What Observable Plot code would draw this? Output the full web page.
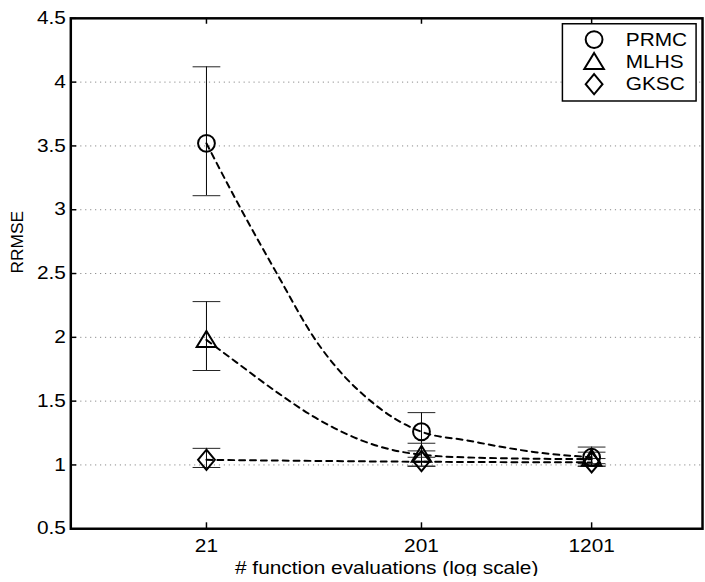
<!DOCTYPE html>
<html>
<head>
<meta charset="utf-8">
<script src="https://cdn.jsdelivr.net/npm/d3@7"></script>
<script src="https://cdn.jsdelivr.net/npm/@observablehq/plot@0.6"></script>
<style>
  html, body { margin: 0; padding: 0; background: #fff; }
  #chart { position: relative; width: 705px; height: 582px; overflow: hidden; }
</style>
</head>
<body>
<div id="chart"></div>
<script>
// Evaluation budgets (x, log scale) and y tick values
const evaluations = [21, 201, 1201];
const yTicks = [0.5, 1, 1.5, 2, 2.5, 3, 3.5, 4, 4.5];
const methods = ["PRMC", "MLHS", "GKSC"];

// Mean RRMSE and error-bar ends, one value per evaluation budget
const prmcMean = [3.52, 1.26, 1.06];
const prmcLow  = [3.11, 1.11, 0.99];
const prmcHigh = [4.12, 1.41, 1.14];
const mlhsMean = [1.98, 1.08, 1.05];
const mlhsLow  = [1.74, 0.99, 1.01];
const mlhsHigh = [2.28, 1.17, 1.10];
const gkscMean = [1.04, 1.03, 1.02];
const gkscLow  = [0.98, 0.99, 0.99];
const gkscHigh = [1.13, 1.06, 1.05];

// Dashed trend curves
const prmcTrendN = [21, 29, 44, 66, 126, 201, 330, 471, 664, 1201];
const prmcTrendV = [3.52, 3.06, 2.50, 1.98, 1.46, 1.26, 1.19, 1.14, 1.10, 1.06];
const mlhsTrendN = [21, 29, 44, 66, 126, 201, 356, 1201];
const mlhsTrendV = [1.98, 1.80, 1.57, 1.37, 1.15, 1.08, 1.057, 1.045];
const gkscTrendN = [21, 201, 1201];
const gkscTrendV = [1.04, 1.025, 1.02];

// Marker shapes
const triangleMarker = {
  draw(ctx, size) {
    const r = Math.sqrt(size / Math.PI);
    ctx.moveTo(0, -r);
    ctx.lineTo(r * 1.1, r * 0.8);
    ctx.lineTo(-r * 1.1, r * 0.8);
    ctx.closePath();
  }
};
const diamondMarker = {
  draw(ctx, size) {
    const r = Math.sqrt(size / Math.PI);
    ctx.moveTo(0, -r * 1.2);
    ctx.lineTo(r, 0);
    ctx.lineTo(0, r * 1.2);
    ctx.lineTo(-r, 0);
    ctx.closePath();
  }
};
const capMarker = {
  draw(ctx, size) {
    const r = Math.sqrt(size / Math.PI);
    ctx.moveTo(-r, 0);
    ctx.lineTo(r, 0);
  }
};
const markerOf = {PRMC: "circle", MLHS: triangleMarker, GKSC: diamondMarker};

const rows = [];
const series = {
  PRMC: [prmcMean, prmcLow, prmcHigh],
  MLHS: [mlhsMean, mlhsLow, mlhsHigh],
  GKSC: [gkscMean, gkscLow, gkscHigh]
};
for (const m of methods) {
  const [mean, low, high] = series[m];
  evaluations.forEach((n, i) => rows.push({method: m, n, mean: mean[i], low: low[i], high: high[i]}));
}
const trends = [
  ...prmcTrendN.map((n, i) => ({method: "PRMC", n, v: prmcTrendV[i]})),
  ...mlhsTrendN.map((n, i) => ({method: "MLHS", n, v: mlhsTrendV[i]})),
  ...gkscTrendN.map((n, i) => ({method: "GKSC", n, v: gkscTrendV[i]}))
];

const W = 712, H = 582;
const mL = 71, mR = 3, mT = 18, mB = 48.5;
const plotW = W - mL - mR, plotH = H - mT - mB;
const font = "'Liberation Sans', Arial, Helvetica, sans-serif";

const chart = Plot.plot({
  width: W,
  height: H,
  marginLeft: mL,
  marginRight: mR,
  marginTop: mT,
  marginBottom: mB,
  style: {fontFamily: font, fontSize: "18px", color: "black", background: "white"},
  x: {type: "log", domain: [5.05, 3850]},
  y: {domain: [0.5, 4.5]},
  marks: [
    // dotted horizontal grid
    Plot.ruleY(yTicks.slice(1, -1), {stroke: "#8a8a8a", strokeWidth: 1, strokeDasharray: "1.2,3.8"}),
    // error bars
    Plot.ruleX(rows, {x: "n", y1: "low", y2: "high", stroke: "black", strokeWidth: 1}),
    Plot.dot(rows, {x: "n", y: "low", symbol: capMarker, r: 14, stroke: "#222", strokeWidth: 1}),
    Plot.dot(rows, {x: "n", y: "high", symbol: capMarker, r: 14, stroke: "#222", strokeWidth: 1}),
    // trend curves
    Plot.line(trends, {x: "n", y: "v", z: "method", curve: "monotone-x", stroke: "black", strokeWidth: 2, strokeDasharray: "6,5"}),
    // markers
    ...methods.map(m => Plot.dot(rows.filter(d => d.method === m), {
      x: "n", y: "mean", symbol: markerOf[m], r: m === "MLHS" ? 9 : 8.5,
      stroke: "black", strokeWidth: 2, fill: "none"
    })),
    // axes frame and inward ticks
    Plot.frame({stroke: "black", strokeWidth: 2.5}),
    Plot.tickX(evaluations, {x: d => d, insetTop: plotH - 6, stroke: "black", strokeWidth: 1.5}),
    Plot.tickX(evaluations, {x: d => d, insetBottom: plotH - 6, stroke: "black", strokeWidth: 1.5}),
    Plot.tickY(yTicks, {y: d => d, insetRight: plotW - 6, stroke: "black", strokeWidth: 1.5}),
    Plot.axisY(yTicks, {tickSize: 0, tickPadding: 5, tickFormat: d => `${d}`, label: null}),
    Plot.axisX(evaluations, {tickSize: 0, tickPadding: 11, tickFormat: d => `${d}`, label: null}),
    Plot.text(["# function evaluations (log scale)"], {text: d => d, frameAnchor: "bottom", dy: 45.5, fontSize: 18}),
    Plot.text(["RRMSE"], {text: d => d, frameAnchor: "left", dx: -54, rotate: -90, fontSize: 17.5})
  ]
});

// Legend inside the upper-right corner of the axes
const svg = d3.select(chart);
const legend = svg.append("g").attr("transform", "translate(568,24)");
legend.append("rect")
  .attr("width", 135).attr("height", 78)
  .attr("fill", "white").attr("stroke", "black").attr("stroke-width", 1.5);
const legendSymbol = {PRMC: d3.symbolCircle, MLHS: triangleMarker, GKSC: diamondMarker};
const legendR = {PRMC: 8.5, MLHS: 9, GKSC: 8.5};
methods.forEach((m, i) => {
  const cy = 16 + i * 22.5;
  legend.append("path")
    .attr("transform", `translate(32,${cy})`)
    .attr("d", d3.symbol(legendSymbol[m], legendR[m] * legendR[m] * Math.PI)())
    .attr("fill", "none").attr("stroke", "black").attr("stroke-width", 2);
  legend.append("text")
    .attr("x", 64).attr("y", cy).attr("dy", "0.35em")
    .attr("text-anchor", "start")
    .attr("font-family", font).attr("font-size", 18)
    .text(m);
});

// Widen horizontal text (not the rotated axis title)
const stretch = 1.17;
chart.querySelectorAll("text").forEach(t => {
  const tr = t.getAttribute("transform") || "";
  if (tr.includes("rotate")) return;
  const x = +(t.getAttribute("x") || 0);
  t.setAttribute("transform", `${tr} translate(${x},0) scale(${stretch},1) translate(${-x},0)`);
});

document.getElementById("chart").append(chart);
</script>
</body>
</html>
